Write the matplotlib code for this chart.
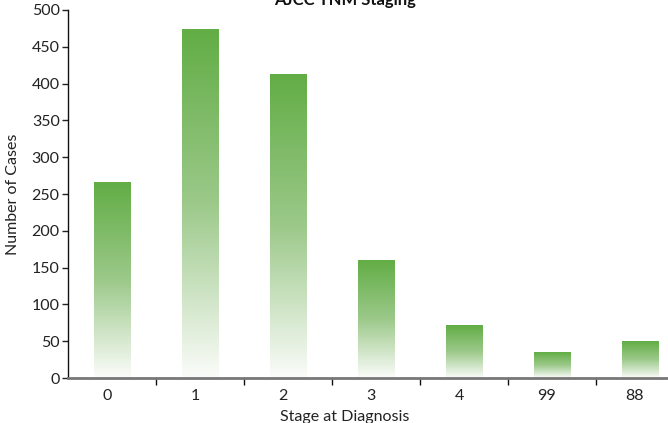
import matplotlib
matplotlib.use("Agg")
import matplotlib.pyplot as plt
import numpy as np
from matplotlib.colors import LinearSegmentedColormap
import matplotlib.transforms as mtransforms

categories = ["0", "1", "2", "3", "4", "99", "88"]
cases = [266, 473, 412, 159, 72, 34, 50]
title = "AJCC TNM Staging"

plt.rcParams['font.family'] = ['Lato', 'DejaVu Sans']

fig = plt.figure(figsize=(6.68, 4.23), dpi=100)
ax = fig.add_axes([68/668, 45/423, 616/668, 368/423])

cmap = LinearSegmentedColormap.from_list("g", ["#fbfcfa", "#9cc98a", "#62ad45"])
grad = np.linspace(0, 1, 256).reshape(-1, 1)
width = 0.42
x = np.arange(len(categories))
for xi, v in zip(x, cases):
    ax.imshow(grad, extent=[xi - width/2, xi + width/2, 0, v], origin="lower",
              cmap=cmap, aspect="auto", zorder=2, interpolation="bilinear")

ax.set_xlim(-0.5, len(categories) - 0.5)
ax.set_ylim(0, 500)
ax.set_yticks(np.arange(0, 501, 50))
ax.set_xticks(x)
ax.set_xticklabels(categories)
ax.set_xticks(np.arange(len(categories)) + 0.5, minor=True)
ax.tick_params(axis="x", which="major", length=0, labelsize=11.5, colors="#222222", pad=8)
ax.tick_params(axis="x", which="minor", length=5, width=1, direction="out", color="#111111")
ax.tick_params(axis="y", length=4, width=1, labelsize=11.5, colors="#222222", pad=2)
offset = mtransforms.ScaledTranslation(-5/100, 0, fig.dpi_scale_trans)
for lab in ax.get_xticklabels():
    lab.set_transform(lab.get_transform() + offset)

for s in ["top", "right"]:
    ax.spines[s].set_visible(False)
ax.spines["left"].set_color("#111111")
ax.spines["left"].set_linewidth(1)
ax.spines["bottom"].set_color("#777777")
ax.spines["bottom"].set_linewidth(2)

ax.set_ylabel("Number of Cases", fontsize=11.5, color="#222222", labelpad=8)
ax.set_xlabel("Stage at Diagnosis", fontsize=11.5, color="#222222", labelpad=2)
ax.xaxis.set_label_coords((345 - 68) / 616, -32/368)

fig.text(345/668, 1.0, title, ha="center", va="center", fontsize=12,
         fontweight="bold", color="#111111")

fig.savefig("out.png", dpi=100)
